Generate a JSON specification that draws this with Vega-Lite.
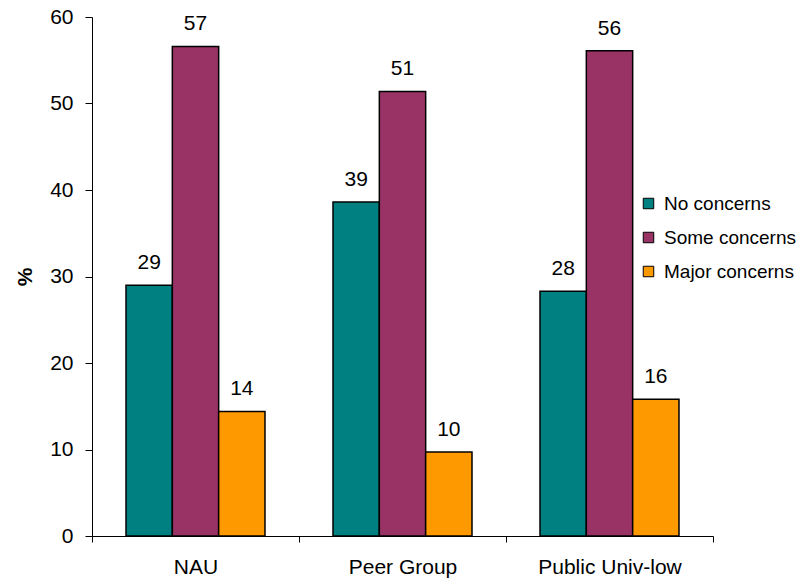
{
  "$schema": "https://vega.github.io/schema/vega-lite/v6.json",
  "width": 621,
  "height": 519,
  "autosize": "none",
  "padding": {"left": 92, "top": 17, "right": 99, "bottom": 46},
  "background": "white",
  "config": {
    "font": "Liberation Sans",
    "view": {"stroke": null}
  },
  "data": {
    "values": [
      {"group": "NAU", "response": "No concerns", "pct": 29.0},
      {"group": "NAU", "response": "Some concerns", "pct": 56.6},
      {"group": "NAU", "response": "Major concerns", "pct": 14.4},
      {"group": "Peer Group", "response": "No concerns", "pct": 38.6},
      {"group": "Peer Group", "response": "Some concerns", "pct": 51.4},
      {"group": "Peer Group", "response": "Major concerns", "pct": 9.7},
      {"group": "Public Univ-low", "response": "No concerns", "pct": 28.3},
      {"group": "Public Univ-low", "response": "Some concerns", "pct": 56.1},
      {"group": "Public Univ-low", "response": "Major concerns", "pct": 15.8}
    ]
  },
  "encoding": {
    "x": {
      "field": "group",
      "type": "nominal",
      "sort": ["NAU", "Peer Group", "Public Univ-low"],
      "scale": {"paddingInner": 0, "paddingOuter": 0},
      "axis": {
        "title": null,
        "labelAngle": 0,
        "labelFontSize": 21,
        "labelColor": "black",
        "labelPadding": 14,
        "tickBand": "extent",
        "tickSize": 6,
        "tickColor": "black",
        "domainColor": "black",
        "grid": false
      }
    },
    "xOffset": {
      "field": "response",
      "type": "nominal",
      "sort": ["No concerns", "Some concerns", "Major concerns"],
      "scale": {"paddingInner": 0, "paddingOuter": 0.734}
    },
    "y": {
      "field": "pct",
      "type": "quantitative",
      "scale": {"domain": [0, 60], "nice": false},
      "axis": {
        "title": "%",
        "titleFontSize": 21,
        "titleFontWeight": "bold",
        "titleColor": "black",
        "titlePadding": 14,
        "values": [0, 10, 20, 30, 40, 50, 60],
        "labelFontSize": 21,
        "labelColor": "black",
        "labelPadding": 12,
        "tickSize": 7,
        "tickColor": "black",
        "domainColor": "black",
        "grid": false
      }
    }
  },
  "layer": [
    {
      "mark": {"type": "bar", "stroke": "black", "strokeWidth": 1.5},
      "encoding": {
        "color": {
          "field": "response",
          "type": "nominal",
          "sort": ["No concerns", "Some concerns", "Major concerns"],
          "scale": {
            "domain": ["No concerns", "Some concerns", "Major concerns"],
            "range": ["#008080", "#993366", "#FF9900"]
          },
          "legend": {
            "title": null,
            "orient": "none",
            "legendX": 547,
            "legendY": 177,
            "symbolType": "square",
            "symbolSize": 110,
            "symbolStrokeColor": "black",
            "symbolStrokeWidth": 1,
            "labelFontSize": 19,
            "labelColor": "black",
            "labelOffset": 6,
            "rowPadding": 14
          }
        }
      }
    },
    {
      "mark": {"type": "text", "baseline": "alphabetic", "dy": -16, "fontSize": 21, "color": "black"},
      "encoding": {
        "text": {"field": "pct", "type": "quantitative", "format": ".0f"}
      }
    }
  ]
}
